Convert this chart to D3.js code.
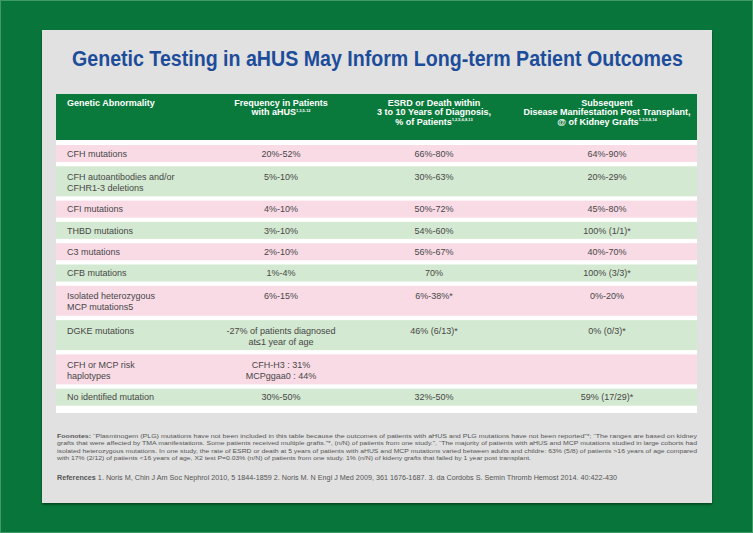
<!DOCTYPE html>
<html><head><meta charset="utf-8">
<script src="https://cdn.jsdelivr.net/npm/d3@7/dist/d3.min.js"></script>
<style>
html,body{margin:0;padding:0;background:#08763a;}
svg{display:block;}
</style></head><body>
<script>
// ---- data ----
const title = "Genetic Testing in aHUS May Inform Long-term Patient Outcomes";
const headers = [
  {lines:["Genetic Abnormality"], sup:[""]},
  {lines:["Frequency in Patients","with aHUS"], sup:["","1,3,5-12"]},
  {lines:["ESRD or Death within","3 to 10 Years of Diagnosis,","% of Patients"], sup:["","","1,2,5,6,8,13"]},
  {lines:["Subsequent","Disease Manifestation Post Transplant,","@ of Kidney Grafts"], sup:["","","1-3,5,8,14"]}
];
const abnormalities = ["CFH mutations","CFH autoantibodies and/or\nCFHR1-3 deletions","CFI mutations","THBD mutations","C3 mutations","CFB mutations","Isolated heterozygous\nMCP mutations5","DGKE mutations","CFH or MCP risk\nhaplotypes","No identified mutation"];
const frequency = ["20%-52%","5%-10%","4%-10%","3%-10%","2%-10%","1%-4%","6%-15%","-27% of patients diagnosed\nat\u22641 year of age","CFH-H3 : 31%\nMCPggaa0 : 44%","30%-50%"];
const esrd = ["66%-80%","30%-63%","50%-72%","54%-60%","56%-67%","70%","6%-38%*","46% (6/13)*","","32%-50%"];
const transplant = ["64%-90%","20%-29%","45%-80%","100% (1/1)*","40%-70%","100% (3/3)*","0%-20%","0% (0/3)*","","59% (17/29)*"];
const footnotes = [
  "Foonotes: \u201cPlasminogem (PLG) mutations have not been included in this table because the outcomes of patients with aHUS and PLG mutations have not been reported\u201d*; \u201cThe ranges are based on kidney",
  "grafts that were affected by TMA manifestations. Some patients received multiple grafts.\u201d*, (n/N) of patients from one study.\u201d, \u201cThe majority of patients with aHUS and MCP mutations studied in large coborts had",
  "isolated heterozygous mutations. In one study, the rate of ESRD or death at 5 years of patients with aHUS and MCP mutations varied between adults and childre: 63% (5/8) of patients >16 years of age compared",
  "with 17% (2/12) of patients <16 years of age, X2 test P=0.03% (n/N) of patients from one study. 1% (n/N) of kideny grafts that failed by 1 year post transplant."
];
const references = "1.  Noris M, Chin J Am Soc Nephrol 2010, 5 1844-1859  2. Noris M. N Engl J Med 2009, 361 1676-1687. 3. da Cordobs S. Semin Thromb Hemost 2014. 40:422-430";

// ---- layout ----
const W = 753, H = 533;
const svg = d3.select("body").append("svg").attr("width", W).attr("height", H);
const defs = svg.append("defs");
const f = defs.append("filter").attr("id","sh").attr("x","-5%").attr("y","-5%").attr("width","110%").attr("height","110%");
f.append("feDropShadow").attr("dx",0).attr("dy",1.5).attr("stdDeviation",1.2).attr("flood-color","#000").attr("flood-opacity",0.45);

svg.append("rect").attr("x",0).attr("y",0).attr("width",W).attr("height",H).attr("fill","#08763a");
svg.append("rect").attr("x",0.5).attr("y",0.5).attr("width",W-1).attr("height",H-1).attr("fill","none").attr("stroke","#3f9a66").attr("stroke-width",1);
svg.append("rect").attr("x",42).attr("y",30).attr("width",670).attr("height",473).attr("fill","#e1e1e1").attr("filter","url(#sh)");

// title: fit natural width to 611px, then stretch vertically (narrow-font look)
const tt = svg.append("text").attr("x",0).attr("y",0)
  .attr("font-family","'Liberation Sans',Arial,sans-serif").attr("font-weight","bold")
  .attr("font-size",20).attr("fill","#1d4d9a").text(title);
const natW = tt.node().getComputedTextLength();
const sx = 611 / natW;
tt.attr("transform",`translate(72,66) scale(${sx},${1.12})`);

const tX0 = 56, tX1 = 697;
const colX = d3.scaleOrdinal().domain([0,1,2,3]).range([67, 281, 434, 607]);
const colAnchor = ["start","middle","middle","middle"];

// header
svg.append("rect").attr("x",tX0).attr("y",94).attr("width",tX1-tX0).attr("height",46).attr("fill","#0a7a3c");
headers.forEach((h,i)=>{
  h.lines.forEach((ln,j)=>{
    const t = svg.append("text").attr("x",colX(i)).attr("y",106+j*9.3).attr("text-anchor",colAnchor[i])
      .attr("font-family","'Liberation Sans',Arial,sans-serif").attr("font-weight","bold").attr("font-size",9)
      .attr("fill","#ffffff").text(ln);
    if (h.sup[j]) t.append("tspan").attr("font-size",4).attr("dy",-3.5).text(h.sup[j]);
  });
});

// body rows
const rows = abnormalities.map((a,i)=>({cells:[a,frequency[i],esrd[i],transplant[i]]}));
rows.forEach(r=>{ r.n = d3.max(r.cells, c=>c.split("\n").length); });
let y = 145;
rows.forEach(r=>{ r.y = y; r.h = r.n>1 ? 30 : 17; y += r.h + 4.3; });
const tableBottom = y + 3;
svg.append("rect").attr("x",tX0).attr("y",140).attr("width",tX1-tX0).attr("height",tableBottom-140).attr("fill","#ffffff");

const g = svg.selectAll("g.row").data(rows).join("g").attr("class","row");
g.append("rect").attr("x",tX0).attr("y",d=>d.y).attr("width",tX1-tX0).attr("height",d=>d.h)
  .attr("fill",(d,i)=> i%2===0 ? "#f9dbe6" : "#d4e9d1");
g.each(function(d){
  const sel = d3.select(this);
  d.cells.forEach((c,ci)=>{
    const ls = c.split("\n");
    ls.forEach((ln,li)=>{
      const yy = d.n===1 ? d.y + d.h/2 + 3.2 : d.y + 13.5 + li*11;
      sel.append("text").attr("x",colX(ci)).attr("y",yy).attr("text-anchor",colAnchor[ci])
        .attr("font-family","'Liberation Sans',Arial,sans-serif").attr("font-size",9)
        .attr("fill","#474747").text(ln);
    });
  });
});

// footnotes
const fnLen = [640, 640, 640, 474];
footnotes.forEach((ln,i)=>{
  const t = svg.append("text").attr("x",57).attr("y",438+i*7.3)
    .attr("font-family","'Liberation Sans',Arial,sans-serif").attr("font-size",6.2).attr("fill","#555")
    .attr("textLength",fnLen[i]).attr("lengthAdjust","spacingAndGlyphs");
  if (i===0){
    t.append("tspan").attr("font-weight","bold").text("Foonotes:");
    t.append("tspan").text(ln.slice(9));
  } else t.text(ln);
});
const rt = svg.append("text").attr("x",57).attr("y",480)
  .attr("font-family","'Liberation Sans',Arial,sans-serif").attr("font-size",6.4).attr("fill","#555")
  .attr("textLength",560).attr("lengthAdjust","spacingAndGlyphs");
rt.append("tspan").attr("font-weight","bold").text("References ");
rt.append("tspan").text(references);
</script>
</body></html>
